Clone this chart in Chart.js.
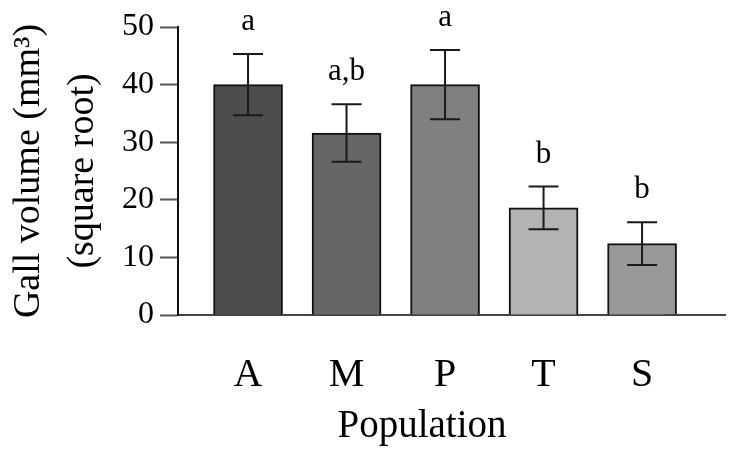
<!DOCTYPE html>
<html><head><meta charset="utf-8">
<script src="https://cdn.jsdelivr.net/npm/chart.js@4/dist/chart.umd.min.js"></script>
<style>html,body{margin:0;padding:0;background:#fff}#wrap{width:729px;height:453px}</style>
</head><body><div id="wrap"><canvas id="c" width="729" height="453"></canvas></div>
<script>
const categories = ['A','M','P','T','S'];
const means = [40, 31.6, 40, 18.6, 12.4];
const errors = [5.3, 5.0, 6.0, 3.7, 3.7];
const letters = ['a','a,b','a','b','b'];
const yTicks = [0,10,20,30,40,50];
const barColors = ['#4d4d4d','#666666','#808080','#b3b3b3','#999999'];

const FONT = '"Liberation Serif", "Times New Roman", serif';

const errPlugin = {
  id:'errbars',
  afterDatasetsDraw(chart){
    const {ctx, scales:{x,y}} = chart;
    ctx.save();
    ctx.strokeStyle='#1a1a1a'; ctx.lineWidth=2;
    means.forEach((m,i)=>{
      const px = x.getPixelForValue(i);
      const top = y.getPixelForValue(m+errors[i]);
      const bot = y.getPixelForValue(m-errors[i]);
      ctx.beginPath();
      ctx.moveTo(px, top); ctx.lineTo(px, bot);
      ctx.moveTo(px-15, top); ctx.lineTo(px+15, top);
      ctx.moveTo(px-15, bot); ctx.lineTo(px+15, bot);
      ctx.stroke();
      ctx.fillStyle='#000';
      ctx.font='31px ' + FONT;
      ctx.textAlign='center'; ctx.textBaseline='alphabetic';
      ctx.fillText(letters[i], px, top-24);
    });
    ctx.restore();
  },
  afterDraw(chart){
    // extend the baseline of the x axis to the right edge, as in the reference
    const {ctx, chartArea, scales:{x}} = chart;
    const yb = Math.round(x.top);
    ctx.save();
    ctx.strokeStyle='#444'; ctx.lineWidth=2;
    ctx.beginPath(); ctx.moveTo(chartArea.right-2, yb); ctx.lineTo(chart.width-3, yb); ctx.stroke();
    ctx.restore();
  }
};

new Chart(document.getElementById('c'), {
  type:'bar',
  data:{
    datasets:[{
      data: means.map((v,i)=>({x:i,y:v})),
      backgroundColor: barColors,
      borderColor:'#111',
      borderWidth:2,
      barThickness:69,
      clip:false
    }]
  },
  options:{
    responsive:false,
    devicePixelRatio:1,
    animation:false,
    layout:{padding:{left:0, top:27, right:63, bottom:0}},
    plugins:{legend:{display:false}, tooltip:{enabled:false}},
    scales:{
      x:{
        type:'linear',
        offset:false,
        min:-0.711, max:4.243,
        afterBuildTicks(scale){ scale.ticks = categories.map((_,i)=>({value:i})); },
        afterFit(scale){ scale.height = 138; },
        ticks:{
          callback:(v)=>categories[v],
          font:{family:FONT, size:40}, color:'#000', padding:28,
          autoSkip:false, maxRotation:0
        },
        grid:{display:false},
        border:{display:true, color:'#444', width:2},
        title:{display:true, text:'Population', color:'#000',
          font:{family:FONT, size:39}, padding:{top:0,bottom:3}}
      },
      y:{
        min:0, max:50,
        afterBuildTicks(scale){ scale.ticks = yTicks.map(v=>({value:v})); },
        afterFit(scale){ scale.width = 178; },
        ticks:{font:{family:FONT, size:32}, color:'#000', padding:6},
        grid:{display:true, drawOnChartArea:false, drawTicks:true, tickLength:18, tickColor:'#555', tickWidth:2},
        border:{display:true, color:'#111', width:2},
        title:{display:true, text:['Gall volume (mm³)','(square root)'], color:'#000',
          font:{family:FONT, size:38, lineHeight:1.42}, padding:{top:2,bottom:0}}
      }
    }
  },
  plugins:[errPlugin]
});
</script></body></html>
